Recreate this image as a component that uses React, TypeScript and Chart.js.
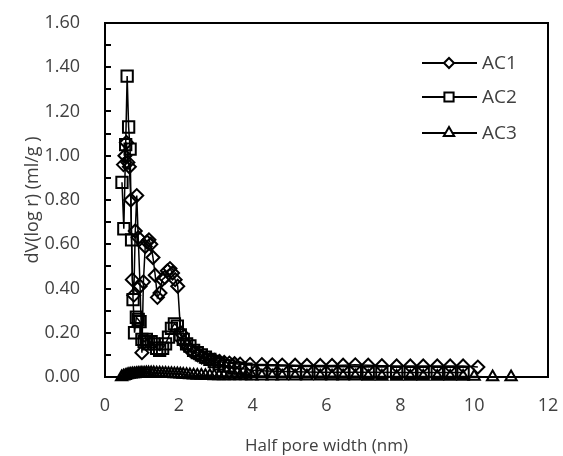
import React, { useEffect, useRef } from 'react';
import { Chart, registerables } from 'chart.js';
import { drawPoint } from 'chart.js/helpers';

Chart.register(...registerables);

const seriesNames = ['AC1', 'AC2', 'AC3'];

const ac1X = [0.50,0.54,0.58,0.62,0.66,0.70,0.74,0.78,0.82,0.86,0.90,0.95,1.00,1.04,1.09,1.14,1.19,1.24,1.30,1.36,1.42,1.49,1.55,1.62,1.69,1.76,1.83,1.90,1.97,2.05,2.13,2.22,2.31,2.41,2.51,2.62,2.73,2.85,2.97,3.10,3.23,3.37,3.51,3.66,3.93,4.25,4.53,4.80,5.15,5.47,5.83,6.15,6.45,6.78,7.13,7.50,7.90,8.27,8.62,9.00,9.35,9.70,10.10];
const ac1Y = [0.96,1.00,1.06,0.97,0.95,0.80,0.44,0.37,0.66,0.82,0.63,0.41,0.11,0.43,0.59,0.61,0.62,0.60,0.54,0.46,0.36,0.38,0.44,0.45,0.48,0.49,0.47,0.44,0.41,0.20,0.16,0.14,0.12,0.11,0.10,0.09,0.085,0.08,0.075,0.07,0.066,0.063,0.06,0.058,0.057,0.056,0.055,0.054,0.053,0.052,0.052,0.052,0.053,0.055,0.053,0.051,0.05,0.05,0.05,0.05,0.05,0.05,0.045];

const ac2X = [0.46,0.51,0.56,0.60,0.64,0.68,0.72,0.76,0.80,0.85,0.90,0.95,1.00,1.06,1.12,1.18,1.25,1.32,1.40,1.48,1.56,1.64,1.72,1.80,1.88,1.96,2.04,2.12,2.21,2.30,2.40,2.50,2.61,2.72,2.84,2.96,3.09,3.22,3.36,3.51,3.66,3.82,3.98,4.25,4.53,4.80,5.15,5.47,5.83,6.15,6.45,6.78,7.13,7.50,7.90,8.27,8.62,9.00,9.35,9.70];
const ac2Y = [0.88,0.67,1.05,1.36,1.13,1.03,0.62,0.35,0.20,0.27,0.26,0.25,0.17,0.16,0.17,0.15,0.16,0.15,0.13,0.12,0.13,0.15,0.18,0.22,0.24,0.23,0.19,0.17,0.15,0.14,0.12,0.11,0.10,0.09,0.08,0.07,0.06,0.05,0.05,0.04,0.04,0.035,0.03,0.028,0.026,0.025,0.024,0.023,0.022,0.022,0.022,0.022,0.021,0.021,0.02,0.02,0.02,0.02,0.02,0.02];

const ac3X = [0.45,0.50,0.55,0.60,0.65,0.70,0.75,0.80,0.85,0.90,0.95,1.00,1.06,1.12,1.18,1.25,1.32,1.40,1.48,1.56,1.64,1.72,1.80,1.88,1.96,2.04,2.12,2.21,2.30,2.40,2.50,2.61,2.72,2.84,2.96,3.09,3.22,3.36,3.51,3.66,3.82,3.98,4.25,4.53,4.80,5.15,5.47,5.83,6.15,6.45,6.78,7.13,7.50,7.90,8.27,8.62,9.00,9.35,9.70,10.00,10.50,11.00];
const ac3Y = [0.0,0.003,0.006,0.009,0.011,0.012,0.013,0.014,0.015,0.016,0.016,0.017,0.017,0.018,0.018,0.018,0.018,0.017,0.017,0.016,0.016,0.015,0.015,0.014,0.013,0.012,0.011,0.010,0.009,0.008,0.007,0.007,0.006,0.006,0.005,0.005,0.005,0.004,0.004,0.004,0.004,0.003,0.003,0.003,0.003,0.003,0.003,0.003,0.003,0.003,0.003,0.002,0.002,0.002,0.002,0.002,0.002,0.002,0.002,0.002,0.0,0.0];

const xMin = 0, xMax = 12, xStep = 2;
const yMin = 0, yMax = 1.6, yStep = 0.2, yMinorStep = 0.1;

const xTitle = 'Half pore width (nm)';
const yTitle = 'dV(log r) (ml/g )';

const TEXT = '#404040';
const FONT = 'Open Sans';

const toPts = (xs: number[], ys: number[]) => xs.map((x, i) => ({ x, y: ys[i] }));

const frameAndLegend = {
  id: 'frameAndLegend',
  afterDraw(chart: any) {
    const { ctx, chartArea: a, scales } = chart;
    ctx.save();
    ctx.strokeStyle = '#000';
    ctx.lineWidth = 2;
    const n = Math.round((yMax - yMin) / yMinorStep);
    for (let i = 0; i <= n; i++) {
      const y = Math.round(scales.y.getPixelForValue(yMin + i * yMinorStep));
      ctx.beginPath();
      ctx.moveTo(a.left, y);
      ctx.lineTo(a.left + 6, y);
      ctx.stroke();
    }
    ctx.strokeRect(a.left, a.top, a.right - a.left, a.bottom - a.top);

    // legend
    const rows = [63, 97, 133];
    const legendR = [5, 6.5, 6];
    chart.data.datasets.forEach((ds: any, i: number) => {
      const y = rows[i];
      ctx.strokeStyle = '#000';
      ctx.lineWidth = 2;
      ctx.beginPath();
      ctx.moveTo(422, y);
      ctx.lineTo(477, y);
      ctx.stroke();
      ctx.fillStyle = '#fff';
      ctx.lineWidth = 2;
      drawPoint(ctx, { pointStyle: ds.pointStyle, radius: legendR[i], rotation: 0, borderWidth: 2 }, 449, y);
      ctx.fillStyle = TEXT;
      ctx.font = `19px "${FONT}"`;
      ctx.textAlign = 'left';
      ctx.textBaseline = 'middle';
      ctx.fillText(ds.label, 482, y + 1);
    });
    ctx.restore();
  },
};

export default function App() {
  const ref = useRef<HTMLCanvasElement>(null);
  useEffect(() => {
    if (!ref.current) return;
    const common = {
      borderColor: '#000',
      borderWidth: 1.5,
      pointBorderColor: '#000',
      pointBackgroundColor: 'rgba(255,255,255,0)',
      pointBorderWidth: 2,
      showLine: true,
      tension: 0,
      clip: false as any,
    };
    const chart = new Chart(ref.current, {
      type: 'scatter',
      data: {
        datasets: [
          { ...common, label: seriesNames[0], data: toPts(ac1X, ac1Y), pointStyle: 'rectRot', pointRadius: 6.5 },
          { ...common, label: seriesNames[1], data: toPts(ac2X, ac2Y), pointStyle: 'rect', pointRadius: 8 },
          { ...common, label: seriesNames[2], data: toPts(ac3X, ac3Y), pointStyle: 'triangle', pointRadius: 6.5 },
        ],
      },
      options: {
        responsive: false,
        animation: false,
        layout: { padding: { left: 0, top: 23, right: 15, bottom: 0 } },
        plugins: { legend: { display: false }, tooltip: { enabled: false } },
        scales: {
          x: {
            type: 'linear',
            min: xMin,
            max: xMax,
            grid: { display: false, drawTicks: false },
            border: { display: false },
            ticks: { stepSize: xStep, color: TEXT, font: { family: FONT, size: 18 }, padding: 18 },
            title: { display: true, text: xTitle, color: TEXT, font: { family: FONT, size: 17 }, padding: { top: 0, bottom: 0 } },
            afterFit: (s: any) => { s.height = 79; s.paddingLeft = 0; s.paddingRight = 0; },
          },
          y: {
            type: 'linear',
            min: yMin,
            max: yMax,
            grid: { display: false, drawTicks: false },
            border: { display: false },
            ticks: { stepSize: yStep, color: TEXT, font: { family: FONT, size: 18 }, padding: 25, callback: (v: any) => Number(v).toFixed(2) },
            title: { display: true, text: yTitle, color: TEXT, font: { family: FONT, size: 18 }, padding: { top: 22, bottom: 0 } },
            afterFit: (s: any) => { s.width = 105; s.paddingTop = 0; s.paddingBottom = 0; },
          },
        },
      },
      plugins: [frameAndLegend],
    });
    return () => chart.destroy();
  }, []);
  return (
    <div style={{ position: 'fixed', left: 0, top: 0, width: 563, height: 456, background: '#fff' }}>
      <canvas ref={ref} width={563} height={456} style={{ display: 'block' }} />
    </div>
  );
}
